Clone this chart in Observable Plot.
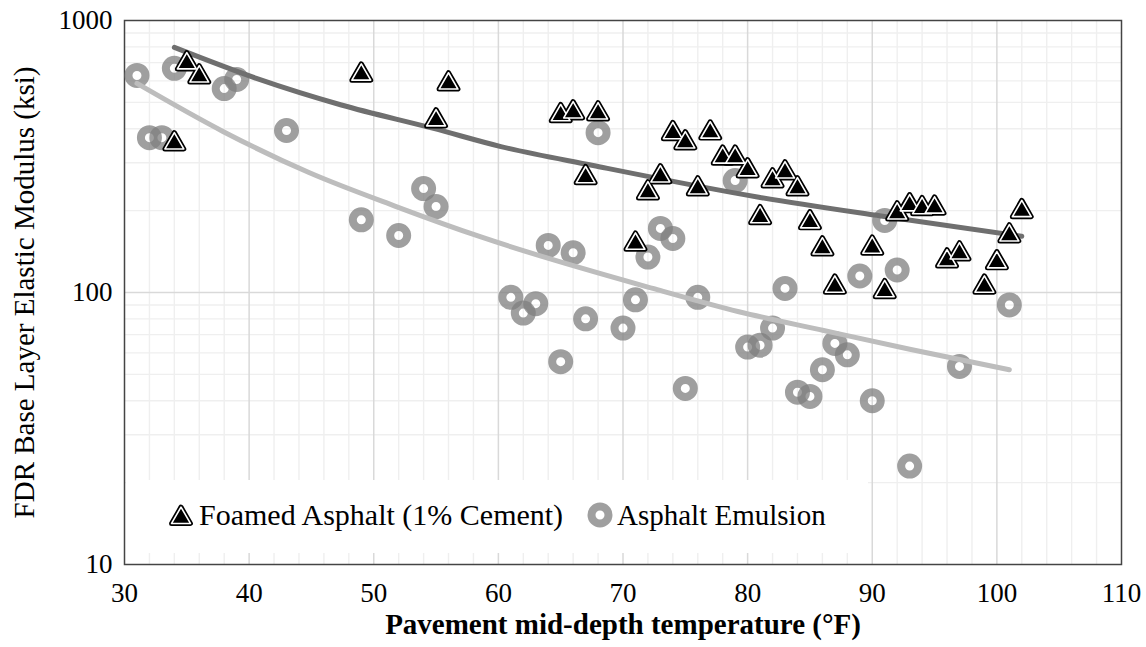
<!DOCTYPE html>
<html>
<head>
<meta charset="utf-8">
<script src="https://cdn.jsdelivr.net/npm/d3@7"></script>
<script src="https://cdn.jsdelivr.net/npm/@observablehq/plot@0.6"></script>
<style>
  body { margin: 0; background: #fff; }
  #wrap { position: relative; width: 1146px; height: 647px; font-family: "Liberation Serif", "Times New Roman", serif; }
  #wrap svg text, #wrap svg g { font-family: "Liberation Serif", "Times New Roman", serif !important; font-variant: normal !important; }
  #legend { position: absolute; left: 126px; top: 480px; }
</style>
</head>
<body>
<div id="wrap"></div>
<script>
// ---- Data ----
const foamedTemp = [35,36,34,49,55,56,65,66,68,67,71,72,73,74,75,77,76,78,79,80,81,82,83,84,85,86,87,90,91,92,93,94,95,96,97,99,100,101,102];
const foamedModulus = [695,622,353,632,429,586,448,459,455,265,151,233,267,385,356,387,241,313,313,281,189,258,276,241,181,145,105,146,101,195,209,204,205,131,139,105,129,162,199];

const emulsionTemp = [31,32,33,34,38,39,43,49,52,54,55,61,62,63,64,65,66,67,68,70,71,72,73,74,75,76,79,80,81,82,83,84,85,86,87,88,89,90,91,92,93,97,101];
const emulsionModulus = [628,371,371,667,562,607,394,185,162,241,207,96,84,91,149,55.7,140,80,387,74,94,135,172,158,44.4,96,258,63,64,74,103.5,43,41.5,52,65,59,115,40,184,121,23,53.5,90];

// Power trendlines
const foamedTrendTemp = [34, 40.7, 47.4, 54.8, 60.2, 67.6, 80.9, 90.7, 102];
const foamedTrendModulus = [796, 610, 489, 401, 344, 293, 224, 191, 161];
const emulsionTrendTemp = [31, 37.9, 44.8, 51.8, 58.6, 72.4, 79.3, 86.1, 93.1, 101];
const emulsionTrendModulus = [587, 391, 276, 207, 160, 103.5, 85, 72.5, 61.7, 52];

const xTicks = [30, 40, 50, 60, 70, 80, 90, 100, 110];
const yTicks = [10, 100, 1000];
const xMinorGrid = [32,34,36,38,42,44,46,48,52,54,56,58,62,64,66,68,72,74,76,78,82,84,86,88,92,94,96,98,102,104,106,108];
const xMajorGrid = [40, 50, 60, 70, 80, 90, 100];
const yMinorGrid = [20,30,40,50,60,70,80,90,200,300,400,500,600,700,800,900];
const yMajorGrid = [100];

const xTitle = "Pavement mid-depth temperature (°F)";
const yTitle = "FDR Base Layer Elastic Modulus (ksi)";
const seriesNames = ["Foamed Asphalt (1% Cement)", "Asphalt Emulsion"];

const foamed = foamedTemp.map((t, i) => ({t, m: foamedModulus[i]}));
const emulsion = emulsionTemp.map((t, i) => ({t, m: emulsionModulus[i]}));
const foamedTrend = foamedTrendTemp.map((t, i) => ({t, m: foamedTrendModulus[i]}));
const emulsionTrend = emulsionTrendTemp.map((t, i) => ({t, m: emulsionTrendModulus[i]}));

const serif = '"Liberation Serif", "Times New Roman", serif';

const chart = Plot.plot({
  width: 1146,
  height: 647,
  marginLeft: 124,
  marginRight: 25,
  marginTop: 20,
  marginBottom: 83,
  style: { fontFamily: serif, fontSize: "27px", color: "#000", background: "#fff" },
  x: { domain: [30, 110] },
  y: { type: "log", domain: [10, 1000] },
  marks: [
    Plot.ruleX(xMinorGrid, { stroke: "#efefef", strokeWidth: 1.4 }),
    Plot.ruleY(yMinorGrid, { stroke: "#efefef", strokeWidth: 1.4 }),
    Plot.ruleX(xMajorGrid, { stroke: "#d9d9d9", strokeWidth: 1.5 }),
    Plot.ruleY(yMajorGrid, { stroke: "#d9d9d9", strokeWidth: 1.5 }),
    Plot.frame({ stroke: "#444", strokeWidth: 1.5 }),
    Plot.axisX({ ticks: xTicks, tickSize: 0, tickPadding: 18, tickFormat: d => String(d), label: null, fill: "#000", fontSize: 27 }),
    Plot.axisY({ ticks: yTicks, tickSize: 0, tickPadding: 12, tickFormat: d => String(d), label: null, fill: "#000", fontSize: 27 }),
    Plot.dot(emulsion, { x: "t", y: "m", r: 8.5, fill: "none", stroke: "#7f7f7f", strokeOpacity: 0.75, strokeWidth: 8 }),
    Plot.line(emulsionTrend, { x: "t", y: "m", stroke: "#bdbdbd", strokeWidth: 5, curve: "monotone-x", strokeLinecap: "round" }),
    Plot.line(foamedTrend, { x: "t", y: "m", stroke: "#6f6f6f", strokeWidth: 5, curve: "monotone-x", strokeLinecap: "round" }),
    Plot.dot(foamed, { x: "t", y: "m", symbol: "triangle", r: 7, fill: "#000", stroke: "#000", strokeWidth: 5, strokeLinejoin: "round" }),
    Plot.dot(foamed, { x: "t", y: "m", symbol: "triangle", r: 7, fill: "#000", stroke: "#fff", strokeWidth: 1.6, strokeLinejoin: "round" }),
    Plot.text([xTitle], { frameAnchor: "bottom", dy: 60, lineAnchor: "middle", textAnchor: "middle", fontSize: 29, fontWeight: "bold", fill: "#000" }),
    Plot.text([yTitle], { frameAnchor: "left", dx: -100, rotate: -90, lineAnchor: "middle", textAnchor: "middle", fontSize: 29, fill: "#000" })
  ]
});

// force the serif face on every text (axis tick labels included)
chart.querySelectorAll("text, tspan, g").forEach(el => {
  el.setAttribute("font-family", serif);
  el.style.fontFamily = serif;
  el.style.fontVariant = "normal";
});

const wrap = document.getElementById("wrap");
wrap.appendChild(chart);

// Legend (inside the plot area, bottom-left, white box)
const ns = "http://www.w3.org/2000/svg";
const leg = document.createElementNS(ns, "svg");
leg.setAttribute("id", "legend");
leg.setAttribute("width", 742);
leg.setAttribute("height", 73);
leg.innerHTML = `
  <rect x="0" y="0" width="742" height="73" fill="#fff"/>
  <path d="${d3.symbol(d3.symbolTriangle, Math.PI * 49)()}" transform="translate(55,38)" fill="#000" stroke="#000" stroke-width="5" stroke-linejoin="round"/>
  <path d="${d3.symbol(d3.symbolTriangle, Math.PI * 49)()}" transform="translate(55,38)" fill="#000" stroke="#fff" stroke-width="1.6" stroke-linejoin="round"/>
  <text x="73" y="45" font-size="30" font-family="Liberation Serif, Times New Roman, serif" fill="#000">${seriesNames[0]}</text>
  <circle cx="474" cy="35" r="8.5" fill="none" stroke="#7f7f7f" stroke-opacity="0.75" stroke-width="8"/>
  <text x="491" y="45" font-size="29" font-family="Liberation Serif, Times New Roman, serif" fill="#000">${seriesNames[1]}</text>
`;
wrap.appendChild(leg);
</script>
</body>
</html>
